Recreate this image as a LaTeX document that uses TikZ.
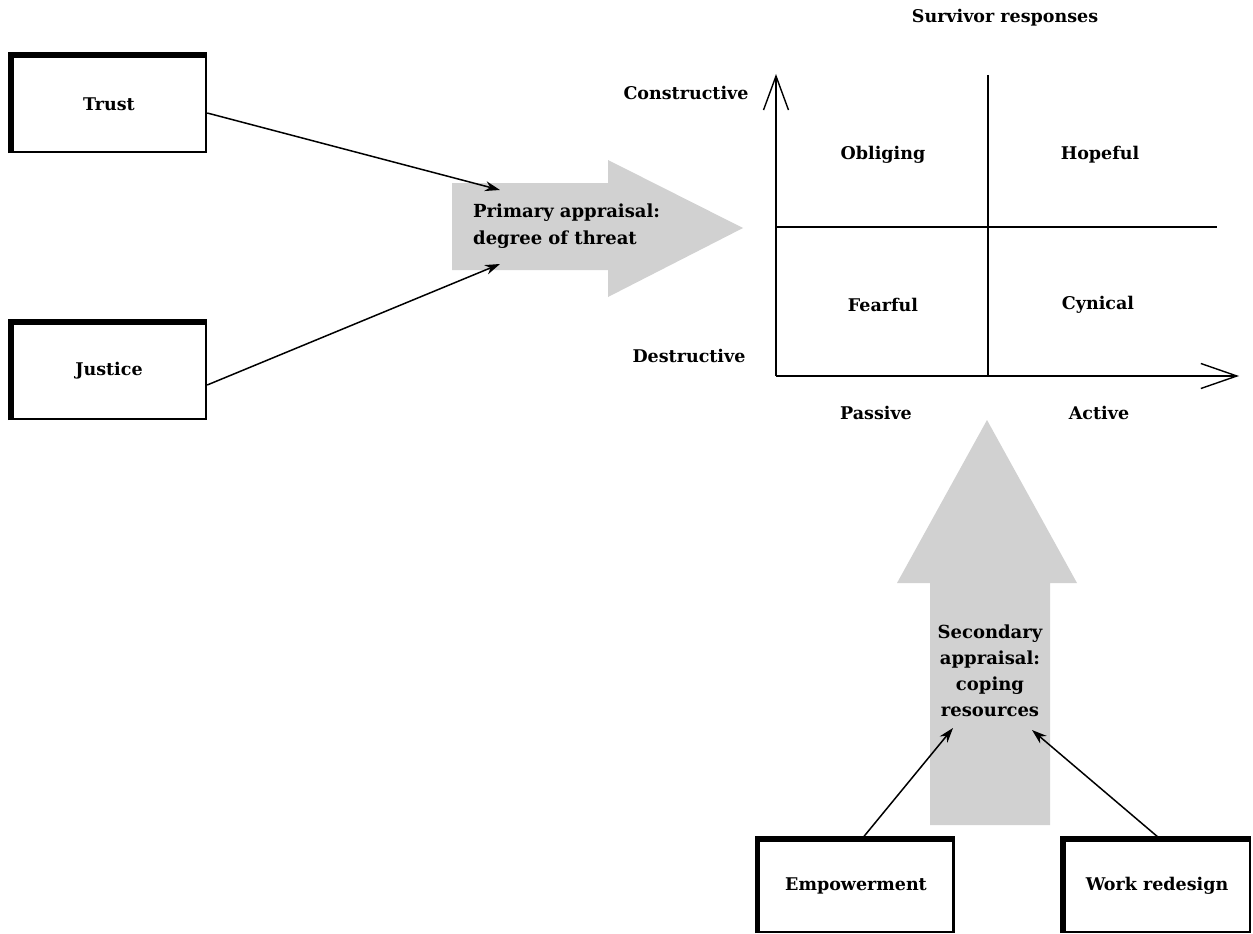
\documentclass[tikz,border=0pt]{standalone}
\usepackage{fontspec}
\setmainfont{DejaVu Serif}
\usetikzlibrary{arrows.meta}
\begin{document}
\begin{tikzpicture}[x=1pt,y=-1pt,
  lbl/.style={font=\bfseries\fontsize{17.5}{20}\selectfont, inner sep=0pt},
  box/.style={draw, line width=2.4pt, fill=white, font=\bfseries\fontsize{17.5}{20}\selectfont},
  conn/.style={line width=1.5pt, -{Stealth[length=15pt,width=10pt]}},
  axis/.style={line width=1.4pt},
  band/.style={fill=gray!36, draw=none},
  bandtext/.style={font=\bfseries\fontsize{18}{27}\selectfont, inner sep=0pt, align=left}
]
\useasboundingbox (0,0) rectangle (1253,934);

% boxes
\node[box, minimum width=194pt, minimum height=96pt] (trust) at (109,104) {Trust};
\node[box, minimum width=194pt, minimum height=96pt] (justice) at (109,371) {Justice};
\node[box, minimum width=195pt, minimum height=92pt] (emp) at (856,886) {Empowerment};
\node[box, minimum width=186pt, minimum height=92pt] (work) at (1157,886) {Work redesign};
\foreach \n in {trust,justice,emp,work}
  \draw[line width=5.5pt] (\n.south west) -- (\n.north west) -- (\n.north east);

% primary appraisal arrow
\fill[band] (452,183) -- (608,183) -- (608,160) -- (743,228) -- (608,297) -- (608,270) -- (452,270) -- cycle;
\node[bandtext, anchor=west] (prim) at (473,226) {Primary appraisal:\\degree of threat};
\coordinate (p1) at (500,190);
\coordinate (p2) at (500,264);

% secondary appraisal arrow
\fill[band] (930,825) -- (930,583) -- (897,583) -- (987,420) -- (1077,583) -- (1050,583) -- (1050,825) -- cycle;
\node[bandtext, align=center, font=\bfseries\fontsize{18}{26}\selectfont] (sec) at (990,671) {Secondary\\appraisal:\\coping\\resources};
\coordinate (s1) at (953,728);
\coordinate (s2) at (1032,730);

% connectors
\draw[conn] ([yshift=-9pt]trust.east) -- (p1);
\draw[conn] ([yshift=-14pt]justice.east) -- (p2);
\draw[conn] ([xshift=6pt]emp.north) -- (s1);
\draw[conn] ([xshift=3pt]work.north) -- (s2);

% axes
\coordinate (O) at (776,376);
\coordinate (Ytop) at (776,74);
\coordinate (Xend) at (1239,376);
\coordinate (Vt) at (988,75);
\coordinate (Vb) at (988,376);
\coordinate (Hl) at (776,227);
\coordinate (Hr) at (1217,227);
\draw[axis, -{Straight Barb[length=34pt,width=25pt,line width=1.4pt]}] (O) -- (Ytop);
\draw[axis, -{Straight Barb[length=36pt,width=25pt,line width=1.4pt]}] (O) -- (Xend);
\draw[axis] (Vt) -- (Vb);
\draw[axis] (Hl) -- (Hr);

% labels
\node[lbl] (title) at (1005,18) {Survivor responses};
\node[lbl] (cons) at (686,93) {Constructive};
\node[lbl] (dest) at (689,356) {Destructive};
\node[lbl] (obl) at (883,155) {Obliging};
\node[lbl] (hop) at (1100,155) {Hopeful};
\node[lbl] (fear) at (883,305) {Fearful};
\node[lbl] (cyn) at (1098,305) {Cynical};
\node[lbl] (pas) at (876,413) {Passive};
\node[lbl] (act) at (1099,413) {Active};
\end{tikzpicture}
\end{document}
